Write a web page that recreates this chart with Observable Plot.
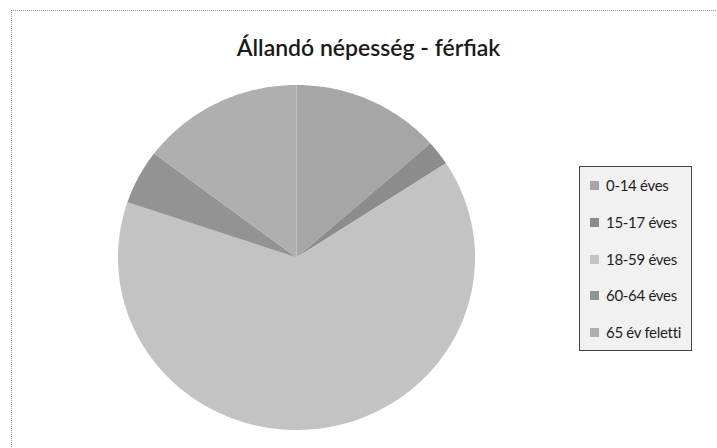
<!DOCTYPE html>
<html><head><meta charset="utf-8">
<script src="https://cdn.jsdelivr.net/npm/d3@7"></script>
<script src="https://cdn.jsdelivr.net/npm/@observablehq/plot@0.6"></script>
<style>
html,body{margin:0;padding:0;background:#fff;}
#wrap{position:relative;width:717px;height:448px;overflow:hidden;font-family:Lato,"Open Sans",sans-serif;}
#frame{position:absolute;left:11px;top:10px;width:706px;height:438px;border-top:1px dotted #9a9a9a;border-left:1px dotted #9a9a9a;}
#title{position:absolute;left:0;top:33px;width:737px;text-align:center;font-size:23px;font-weight:600;color:#1a1a1a;}
#legend{position:absolute;left:579px;top:166px;width:113px;height:185px;box-sizing:border-box;border:1px solid #444;background:#f1f1f1;}
.li{position:absolute;left:10px;font-size:15px;letter-spacing:-0.3px;color:#1e1e1e;white-space:nowrap;line-height:18px;}
.sw{display:inline-block;width:9px;height:9px;margin-right:7px;vertical-align:1px;}
#chart{position:absolute;left:0;top:0;}
</style></head>
<body><div id="wrap"><div id="frame"></div><div id="chart"></div><div id="title">Állandó népesség - férfiak</div><div id="legend"></div></div>
<script>
const categories = ["0-14 éves","15-17 éves","18-59 éves","60-64 éves","65 év feletti"];
const values = [13.5, 2.3, 64.4, 5.1, 14.7];
const colors = ["#a6a6a6","#8c8c8c","#c3c3c3","#939393","#afafaf"];

const total = d3.sum(values);
const pts = [];
let acc = 0;
categories.forEach((c,i)=>{
  const a0 = acc/total*2*Math.PI;
  acc += values[i];
  const a1 = acc/total*2*Math.PI;
  const n = Math.max(2, Math.ceil((a1-a0)/(Math.PI/180)));
  for(let k=0;k<=n;k++){
    const a = a0+(a1-a0)*k/n;
    pts.push({cat:c, x:Math.sin(a), y:Math.cos(a)});
  }
});

const plot = Plot.plot({
  width:717, height:448,
  marginLeft:118, marginRight:242, marginTop:85, marginBottom:18,
  x:{domain:[-1,1], axis:null},
  y:{domain:[-1,1], axis:null},
  color:{domain:categories, range:colors},
  style:{background:"transparent"},
  marks:[
    Plot.area(pts,{x1:()=>0,y1:()=>0,x2:"x",y2:"y",z:"cat",fill:"cat",curve:"linear"})
  ]
});
document.getElementById("chart").appendChild(plot);
const color = plot.scale("color");
const leg = document.getElementById("legend");
categories.forEach((c,i)=>{
  const d = document.createElement("div");
  d.className="li";
  d.style.top = (9+i*36.8)+"px";
  d.innerHTML = `<span class="sw" style="background:${colors[color.domain.indexOf(c)]}"></span>${c}`;
  leg.appendChild(d);
});
</script></body></html>
